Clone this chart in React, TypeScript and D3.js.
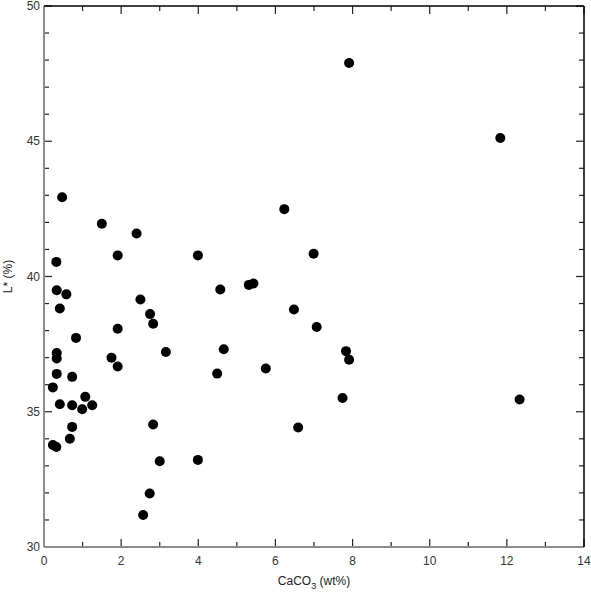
import React, { useEffect, useRef } from 'react';
import * as d3 from 'd3';

// CaCO3 content vs. lightness (L*)
const caco3 = [
  7.91, 11.83, 0.47, 1.50, 2.40, 6.23, 0.32, 1.91, 3.99, 0.33,
  0.58, 0.41, 4.57, 5.31, 5.43, 6.48, 2.50, 2.75, 2.83, 1.91,
  0.83, 0.33, 0.33, 3.16, 4.66, 1.75, 1.91, 4.49, 5.75, 0.33,
  0.73, 0.23, 1.07, 0.41, 0.73, 0.99, 1.25, 6.99, 7.07, 7.83,
  7.91, 7.74, 12.33, 0.73, 0.67, 0.23, 0.32, 2.83, 3.00, 3.99,
  2.74, 2.57, 6.59,
];
const lightness = [
  47.89, 45.12, 42.93, 41.95, 41.59, 42.49, 40.54, 40.78, 40.78, 39.49,
  39.34, 38.82, 39.52, 39.69, 39.74, 38.78, 39.15, 38.61, 38.25, 38.07,
  37.73, 37.17, 36.97, 37.21, 37.31, 37.0, 36.67, 36.41, 36.60, 36.40,
  36.29, 35.90, 35.55, 35.28, 35.24, 35.09, 35.24, 40.84, 38.13, 37.24,
  36.92, 35.51, 35.45, 34.44, 34.0, 33.77, 33.70, 34.53, 33.17, 33.22,
  31.98, 31.18, 34.42,
];
const xMajorTicks = [0, 2, 4, 6, 8, 10, 12, 14];
const xMinorTicks = [1, 3, 5, 7, 9, 11, 13];
const yMajorTicks = [30, 35, 40, 45, 50];
const yMinorTicks = [31, 32, 33, 34, 36, 37, 38, 39, 41, 42, 43, 44, 46, 47, 48, 49];

export default function App() {
  const ref = useRef<SVGSVGElement>(null);

  useEffect(() => {
    const width = 591;
    const height = 593;
    const margin = { top: 6, right: 7, bottom: 46, left: 44 };
    const x0 = margin.left, x1 = width - margin.right;
    const y0 = height - margin.bottom, y1 = margin.top;

    const svg = d3.select(ref.current);
    svg.selectAll('*').remove();
    svg.style('font-family', 'Liberation Sans, Arial, sans-serif');

    const x = d3.scaleLinear().domain([0, 14]).range([x0, x1]);
    const y = d3.scaleLinear().domain([30, 50]).range([y0, y1]);

    const g = svg.append('g');
    const major = 8, minor = 5;

    // tick marks on all four sides, pointing inward
    const tick = (x1_: number, y1_: number, x2_: number, y2_: number, c: string) =>
      g.append('line').attr('x1', x1_).attr('y1', y1_).attr('x2', x2_).attr('y2', y2_)
        .attr('stroke', c).attr('stroke-width', 1.2);

    xMajorTicks.forEach(v => {
      tick(x(v), y0, x(v), y0 - major, '#222');
      tick(x(v), y1, x(v), y1 + major, '#222');
    });
    xMinorTicks.forEach(v => {
      tick(x(v), y0, x(v), y0 - minor, '#222');
      tick(x(v), y1, x(v), y1 + minor, '#222');
    });
    yMajorTicks.forEach(v => {
      tick(x0, y(v), x0 + major, y(v), '#222');
      tick(x1, y(v), x1 - major, y(v), '#222');
    });
    yMinorTicks.forEach(v => {
      tick(x0, y(v), x0 + minor, y(v), '#222');
      tick(x1, y(v), x1 - minor, y(v), '#222');
    });

    // frame: left & bottom grey, top & right black
    g.append('line').attr('x1', x0).attr('y1', y0).attr('x2', x1).attr('y2', y0)
      .attr('stroke', '#8c8c8c').attr('stroke-width', 2);
    g.append('line').attr('x1', x0).attr('y1', y0).attr('x2', x0).attr('y2', y1)
      .attr('stroke', '#8c8c8c').attr('stroke-width', 2);
    g.append('line').attr('x1', x0).attr('y1', y1).attr('x2', x1).attr('y2', y1)
      .attr('stroke', '#000').attr('stroke-width', 1.5);
    g.append('line').attr('x1', x1).attr('y1', y1).attr('x2', x1).attr('y2', y0)
      .attr('stroke', '#000').attr('stroke-width', 1.5);

    // tick labels
    g.selectAll('text.xl').data(xMajorTicks).enter().append('text')
      .attr('class', 'xl')
      .attr('x', d => x(d)).attr('y', y0 + 18)
      .attr('text-anchor', 'middle').attr('font-size', 12).attr('fill', '#333')
      .text(d => d);
    g.selectAll('text.yl').data(yMajorTicks).enter().append('text')
      .attr('class', 'yl')
      .attr('x', x0 - 4).attr('y', d => y(d) + 4)
      .attr('text-anchor', 'end').attr('font-size', 12).attr('fill', '#333')
      .text(d => d);

    // axis titles
    const xt = g.append('text')
      .attr('x', (x0 + x1) / 2).attr('y', y0 + 38)
      .attr('text-anchor', 'middle').attr('font-size', 12).attr('fill', '#222');
    xt.append('tspan').text('CaCO');
    xt.append('tspan').attr('dy', 4).attr('font-size', 9).text('3');
    xt.append('tspan').attr('dy', -4).text(' (wt%)');

    g.append('text')
      .attr('transform', `translate(12,${(y0 + y1) / 2}) rotate(-90)`)
      .attr('text-anchor', 'middle').attr('font-size', 12).attr('fill', '#222')
      .text('L* (%)');

    // points
    g.selectAll('circle.pt').data(caco3).enter().append('circle')
      .attr('class', 'pt')
      .attr('cx', d => x(d))
      .attr('cy', (_, i) => y(lightness[i]))
      .attr('r', 5)
      .attr('fill', '#000');
  }, []);

  return (
    <svg ref={ref} width={591} height={593}
      style={{ position: 'absolute', left: 0, top: 0, display: 'block' }} />
  );
}
